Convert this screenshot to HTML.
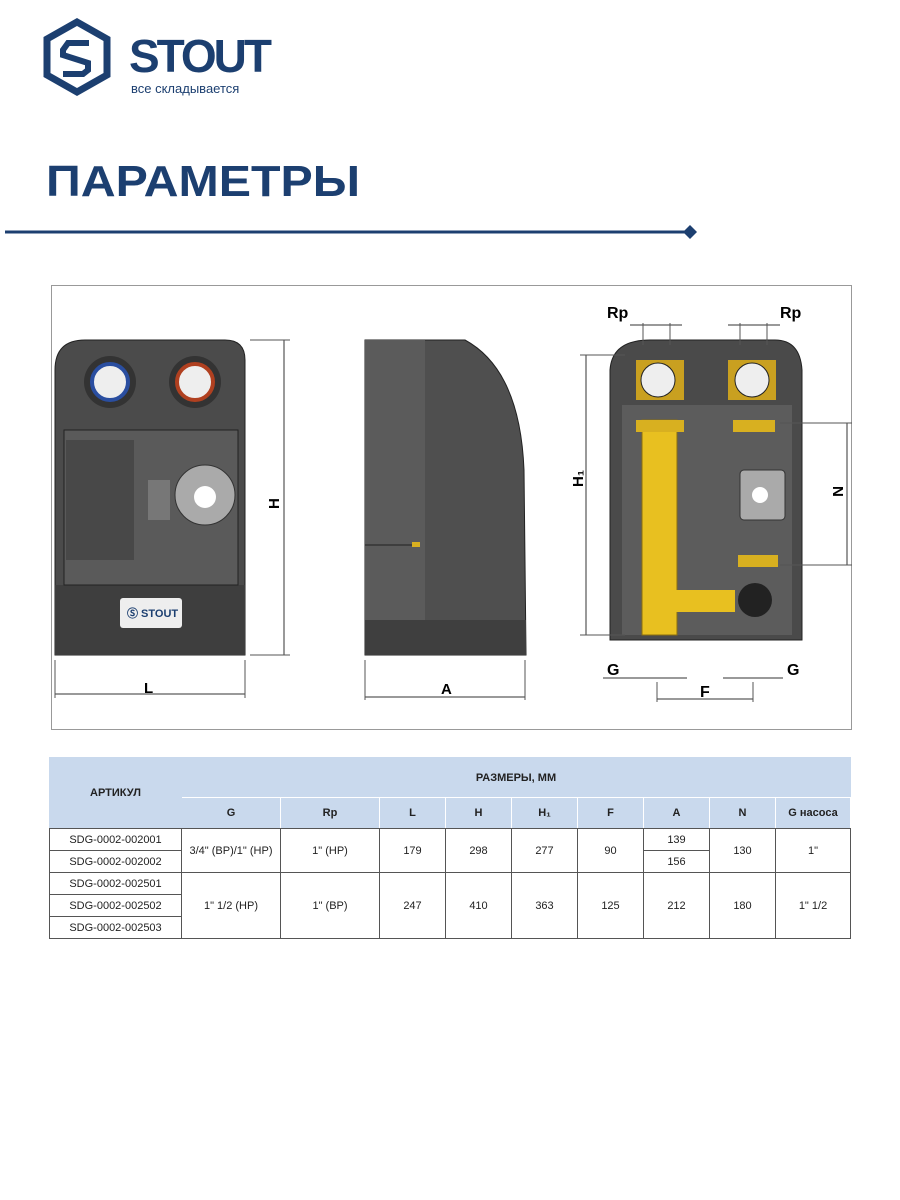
<!DOCTYPE html>
<html><head><meta charset="utf-8"><style>
body{margin:0;background:#fff;width:900px;height:1200px;position:relative;overflow:hidden;font-family:"Liberation Sans",sans-serif}
.abs{position:absolute}
table{border-collapse:collapse;position:absolute;left:49px;top:757px;width:802px;font-family:"Liberation Sans",sans-serif;font-size:11px;color:#222}
td{border:1px solid #555;text-align:center;padding:0}
.h{background:#c9d9ed;border-color:#c9d9ed;font-weight:bold;border-bottom:1px solid #fff}
.h2{background:#c9d9ed;font-weight:bold;border:1px solid #fff;border-bottom:1px solid #555}
</style></head><body>
<svg class="abs" style="left:0;top:0" width="900" height="1200">
 <!-- logo -->
 <polygon points="77,22 107,39 107,75 77,92 47,75 47,39" fill="none" stroke="#1c3f70" stroke-width="7"/>
 <path d="M89,43 L68,43 L63,50 L63,55 L88,63 L88,70 L83,74 L63,74" fill="none" stroke="#1c3f70" stroke-width="6"/>
 <text x="129" y="72" font-size="46" font-weight="bold" fill="#1c3f70" font-family="Liberation Sans Narrow,Liberation Sans,sans-serif" textLength="143" lengthAdjust="spacing">STOUT</text>
 <text x="131" y="93" font-size="13" fill="#1c3f70">все складывается</text>
 <text x="46" y="196" font-size="44" font-weight="bold" fill="#1c3f70" textLength="314" lengthAdjust="spacingAndGlyphs">ПАРАМЕТРЫ</text>
 <line x1="5" y1="232" x2="688" y2="232" stroke="#1c3f70" stroke-width="3"/>
 <polygon points="690,225 697,232 690,239 683,232" fill="#1c3f70"/>
 <!-- frame -->
 <rect x="51.5" y="285.5" width="800" height="444" fill="none" stroke="#999"/>
 <!-- front view -->
 <path d="M55,370 Q55,340 85,340 L225,340 Q245,340 245,360 L245,655 L55,655 Z" fill="#4b4b4b" stroke="#222"/>
 <rect x="55" y="585" width="190" height="70" fill="#3e3e3e"/>
 <rect x="64" y="430" width="174" height="155" fill="#5a5a5a" stroke="#222"/>
 <rect x="66" y="440" width="68" height="120" fill="#484848"/>
 <circle cx="110" cy="382" r="26" fill="#333"/><circle cx="110" cy="382" r="18" fill="#eee" stroke="#2a4ea0" stroke-width="4"/>
 <circle cx="195" cy="382" r="26" fill="#333"/><circle cx="195" cy="382" r="18" fill="#eee" stroke="#b04020" stroke-width="4"/>
 <circle cx="205" cy="495" r="30" fill="#aaa" stroke="#333"/><circle cx="205" cy="497" r="11" fill="#fff"/>
 <rect x="148" y="480" width="22" height="40" fill="#777"/>
 <rect x="120" y="598" width="62" height="30" rx="3" fill="#eee"/>
 <text x="127" y="617" font-size="11" font-weight="bold" fill="#1c3f70">Ⓢ STOUT</text>
 <line x1="55" y1="694" x2="245" y2="694" stroke="#333"/><text x="144" y="693" font-size="15" font-weight="bold">L</text>
 <line x1="55" y1="660" x2="55" y2="698" stroke="#555"/><line x1="245" y1="660" x2="245" y2="698" stroke="#555"/>
 <line x1="284" y1="340" x2="284" y2="655" stroke="#333"/><line x1="250" y1="340" x2="290" y2="340" stroke="#555"/><line x1="250" y1="655" x2="290" y2="655" stroke="#555"/>
 <text x="267" y="507" font-size="15" font-weight="bold" transform="rotate(-90 274 502)">H</text>
 <!-- side view -->
 <path d="M365,340 L465,340 Q520,370 524,470 L526,655 L365,655 Z" fill="#4f4f4f" stroke="#222"/>
 <rect x="365" y="340" width="60" height="315" fill="#5b5b5b"/>
 <line x1="365" y1="545" x2="420" y2="545" stroke="#222"/><rect x="412" y="542" width="8" height="5" fill="#d9b020"/>
 <rect x="365" y="620" width="161" height="35" fill="#3f3f3f"/>
 <line x1="365" y1="697" x2="525" y2="697" stroke="#333"/><text x="441" y="694" font-size="15" font-weight="bold">A</text>
 <line x1="365" y1="660" x2="365" y2="700" stroke="#555"/><line x1="525" y1="660" x2="525" y2="700" stroke="#555"/>
 <!-- right view -->
 <path d="M610,370 Q612,340 650,340 L775,340 Q800,340 802,370 L802,640 L610,640 Z" fill="#4a4a4a" stroke="#222"/>
 <rect x="622" y="405" width="170" height="230" fill="#5c5c5c"/>
 <rect x="636" y="360" width="48" height="40" fill="#c9a020"/><circle cx="658" cy="380" r="17" fill="#eee" stroke="#222"/>
 <rect x="728" y="360" width="48" height="40" fill="#c9a020"/><circle cx="752" cy="380" r="17" fill="#eee" stroke="#222"/>
 <rect x="642" y="420" width="35" height="215" fill="#e8c020" stroke="#8a6e10"/>
 <rect x="636" y="420" width="48" height="12" fill="#d8b020"/>
 <rect x="733" y="420" width="42" height="12" fill="#d8b020"/>
 <rect x="670" y="590" width="65" height="22" fill="#e8c020"/>
 <rect x="738" y="555" width="40" height="12" fill="#d8b020"/>
 <circle cx="755" cy="600" r="17" fill="#222"/>
 <rect x="740" y="470" width="45" height="50" rx="4" fill="#aaa" stroke="#333"/><circle cx="760" cy="495" r="8" fill="#fff"/>
 <line x1="586" y1="355" x2="586" y2="635" stroke="#333"/><text x="571" y="485" font-size="15" font-weight="bold" transform="rotate(-90 578 480)">H₁</text>
 <line x1="580" y1="355" x2="625" y2="355" stroke="#555"/><line x1="580" y1="635" x2="625" y2="635" stroke="#555"/>
 <line x1="847" y1="423" x2="847" y2="565" stroke="#333"/><line x1="780" y1="423" x2="852" y2="423" stroke="#555"/><line x1="780" y1="565" x2="852" y2="565" stroke="#555"/>
 <text x="832" y="497" font-size="15" font-weight="bold" transform="rotate(90 838 492)">N</text>
 <text x="607" y="318" font-size="16" font-weight="bold">Rp</text><text x="780" y="318" font-size="16" font-weight="bold">Rp</text>
 <line x1="630" y1="325" x2="682" y2="325" stroke="#333"/><line x1="728" y1="325" x2="780" y2="325" stroke="#333"/>
 <line x1="643" y1="323" x2="643" y2="345" stroke="#555"/><line x1="670" y1="323" x2="670" y2="345" stroke="#555"/>
 <line x1="740" y1="323" x2="740" y2="345" stroke="#555"/><line x1="767" y1="323" x2="767" y2="345" stroke="#555"/>
 <text x="607" y="675" font-size="16" font-weight="bold">G</text><text x="787" y="675" font-size="16" font-weight="bold">G</text>
 <line x1="603" y1="678" x2="687" y2="678" stroke="#333"/><line x1="723" y1="678" x2="783" y2="678" stroke="#333"/>
 <line x1="657" y1="699" x2="753" y2="699" stroke="#333"/><text x="700" y="697" font-size="16" font-weight="bold">F</text>
 <line x1="657" y1="682" x2="657" y2="702" stroke="#555"/><line x1="753" y1="682" x2="753" y2="702" stroke="#555"/>
</svg>
<table>
<tr style="height:40px"><td class="h" rowspan="2" style="width:131px;border-bottom:1px solid #555">АРТИКУЛ</td><td class="h" colspan="9">РАЗМЕРЫ, ММ</td></tr>
<tr style="height:31px"><td class="h2" style="width:98px">G</td><td class="h2" style="width:98px">Rp</td><td class="h2" style="width:65px">L</td><td class="h2" style="width:65px">H</td><td class="h2" style="width:65px">H₁</td><td class="h2" style="width:65px">F</td><td class="h2" style="width:65px">A</td><td class="h2" style="width:65px">N</td><td class="h2">G насоса</td></tr>
<tr style="height:22px"><td>SDG-0002-002001</td><td rowspan="2">3/4" (ВР)/1" (НР)</td><td rowspan="2">1" (НР)</td><td rowspan="2">179</td><td rowspan="2">298</td><td rowspan="2">277</td><td rowspan="2">90</td><td>139</td><td rowspan="2">130</td><td rowspan="2">1"</td></tr>
<tr style="height:22px"><td>SDG-0002-002002</td><td>156</td></tr>
<tr style="height:22px"><td>SDG-0002-002501</td><td rowspan="3">1" 1/2 (НР)</td><td rowspan="3">1" (ВР)</td><td rowspan="3">247</td><td rowspan="3">410</td><td rowspan="3">363</td><td rowspan="3">125</td><td rowspan="3">212</td><td rowspan="3">180</td><td rowspan="3">1" 1/2</td></tr>
<tr style="height:22px"><td>SDG-0002-002502</td></tr>
<tr style="height:22px"><td>SDG-0002-002503</td></tr>
</table>
</body></html>
